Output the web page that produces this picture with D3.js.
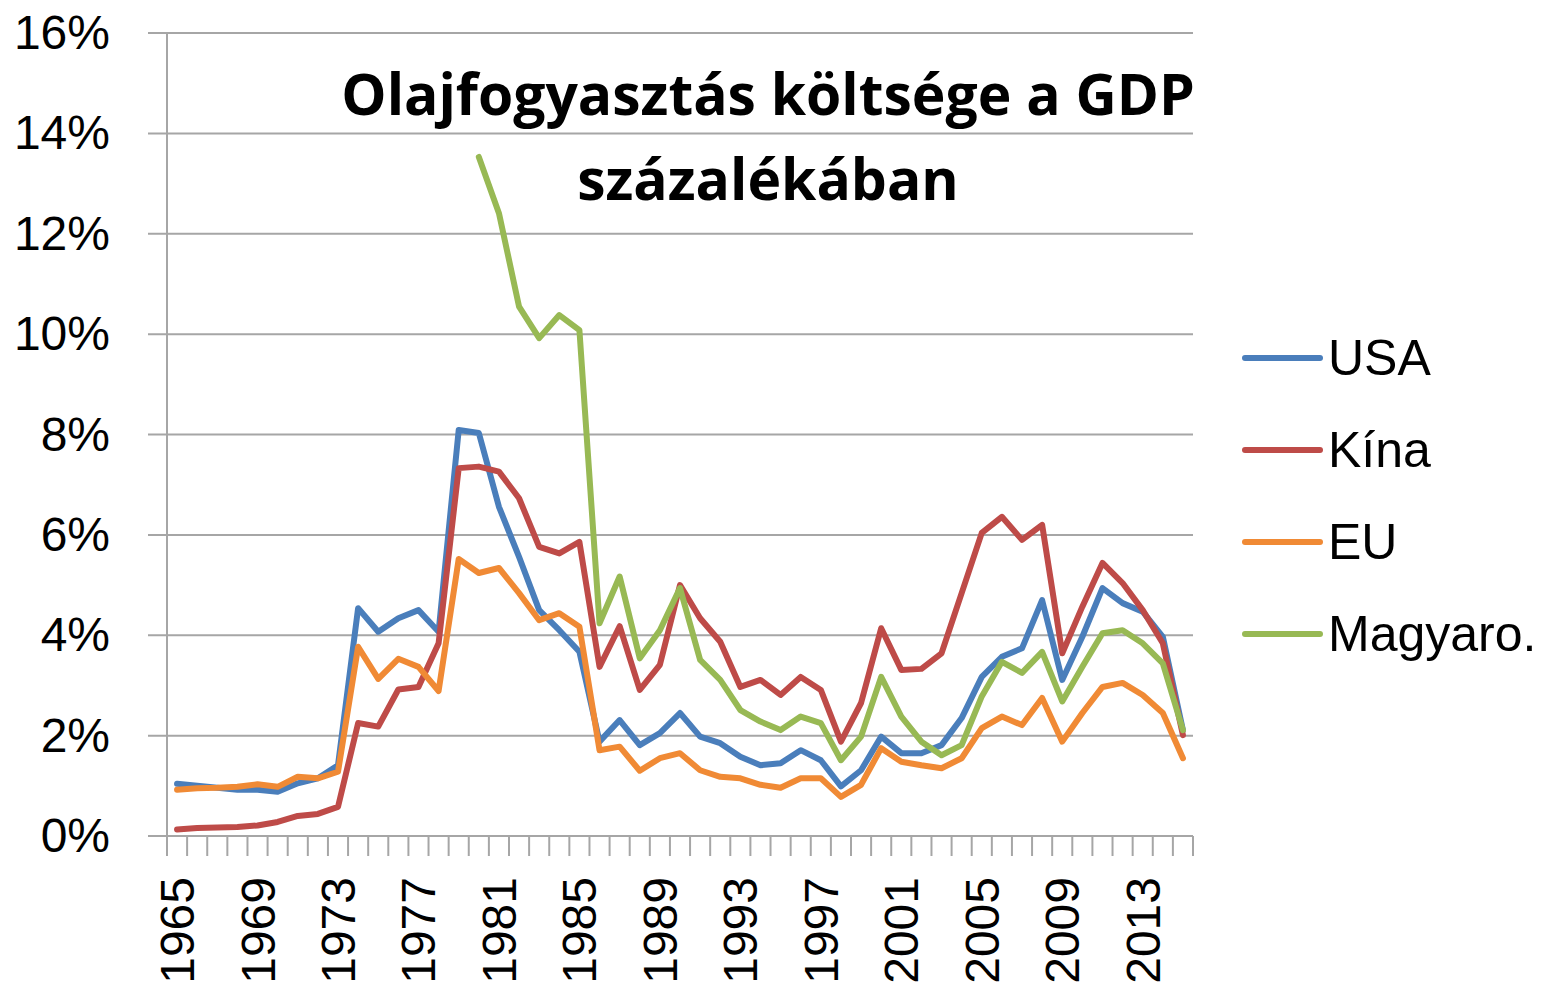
<!DOCTYPE html>
<html>
<head>
<meta charset="utf-8">
<script src="https://cdn.jsdelivr.net/npm/d3@7"></script>
<style>
  body { margin: 0; background: #fff; }
  svg { display: block; }
</style>
</head>
<body>
<div id="chart"></div>
<script>
// évek (kategóriák)
const years = d3.range(1965, 2016);

// sorozatok, a GDP százalékában
const usa = [
  1.04, 1.00, 0.96, 0.92, 0.92, 0.88, 1.05, 1.15, 1.41, 4.54, 4.07,
  4.34, 4.50, 4.07, 8.09, 8.03, 6.56, 5.56, 4.50, 4.10, 3.67,
  1.88, 2.31, 1.81, 2.05, 2.45, 1.98, 1.85, 1.58, 1.41, 1.45,
  1.71, 1.51, 0.99, 1.31, 1.98, 1.65, 1.65, 1.81, 2.35, 3.17,
  3.57, 3.74, 4.70, 3.11, 3.97, 4.94, 4.64, 4.47, 3.97, 2.11
];
const kina = [
  0.13, 0.16, 0.17, 0.18, 0.21, 0.28, 0.40, 0.44, 0.58, 2.25, 2.18,
  2.92, 2.97, 3.84, 7.33, 7.36, 7.26, 6.73, 5.76, 5.63, 5.86,
  3.37, 4.18, 2.91, 3.41, 5.00, 4.34, 3.87, 2.97, 3.11, 2.81,
  3.17, 2.91, 1.88, 2.65, 4.14, 3.31, 3.33, 3.64, 4.84, 6.04,
  6.36, 5.90, 6.20, 3.64, 4.57, 5.44, 5.04, 4.50, 3.84, 2.01
];
const eu = [
  0.92, 0.95, 0.96, 0.98, 1.03, 0.98, 1.18, 1.15, 1.28, 3.77, 3.13,
  3.53, 3.37, 2.89, 5.52, 5.24, 5.34, 4.84, 4.30, 4.44, 4.17,
  1.71, 1.78, 1.30, 1.55, 1.65, 1.31, 1.18, 1.15, 1.02, 0.96,
  1.15, 1.15, 0.78, 1.02, 1.75, 1.48, 1.41, 1.35, 1.55, 2.15,
  2.38, 2.21, 2.75, 1.88, 2.45, 2.97, 3.05, 2.81, 2.45, 1.55
];
const magyaro = [
  null, null, null, null, null, null, null, null, null, null, null,
  null, null, null, null, 13.53, 12.41, 10.55, 9.92, 10.38, 10.08,
  4.24, 5.17, 3.54, 4.10, 4.94, 3.51, 3.11, 2.51, 2.28, 2.11,
  2.38, 2.25, 1.51, 1.98, 3.17, 2.38, 1.88, 1.61, 1.81, 2.78,
  3.47, 3.25, 3.67, 2.68, 3.37, 4.04, 4.10, 3.84, 3.44, 2.11
];

const seriesNames = ["USA", "Kína", "EU", "Magyaro."];
const seriesColors = ["#4a7ebb", "#be4b48", "#f08a35", "#98b954"];
const yTicks = [0, 2, 4, 6, 8, 10, 12, 14, 16];
const xLabelYears = [1965, 1969, 1973, 1977, 1981, 1985, 1989, 1993, 1997, 2001, 2005, 2009, 2013];
const titleLines = ["Olajfogyasztás költsége a GDP", "százalékában"];

const series = [usa, kina, eu, magyaro].map((vals, i) => ({
  name: seriesNames[i],
  color: seriesColors[i],
  values: vals.map((v, j) => ({ year: years[j], value: v }))
}));

const width = 1555, height = 989;
const font = "'Liberation Sans', Arial, sans-serif";
const gridColor = "#a6a6a6";

const svg = d3.select("#chart").append("svg")
  .attr("width", width)
  .attr("height", height);

const x = d3.scaleBand()
  .domain(years)
  .range([167, 1193])
  .padding(0);

const y = d3.scaleLinear()
  .domain([0, 16])
  .range([836, 33]);

const cx = d => x(d) + x.bandwidth() / 2;

// vízszintes rácsvonalak
svg.append("g")
  .selectAll("line")
  .data(yTicks)
  .join("line")
  .attr("x1", 148)
  .attr("x2", x.range()[1])
  .attr("y1", d => y(d))
  .attr("y2", d => y(d))
  .attr("stroke", gridColor)
  .attr("stroke-width", 2);

// függőleges tengely
svg.append("line")
  .attr("x1", x.range()[0])
  .attr("x2", x.range()[0])
  .attr("y1", y(16))
  .attr("y2", y(0))
  .attr("stroke", gridColor)
  .attr("stroke-width", 2);

// y feliratok
svg.append("g")
  .attr("font-family", font)
  .attr("font-size", 48)
  .attr("text-anchor", "end")
  .selectAll("text")
  .data(yTicks)
  .join("text")
  .attr("x", 110)
  .attr("y", d => y(d) + 16)
  .text(d => d + "%");

// x tengely: osztásjelek a kategóriák határán
const boundaries = years.map(d => x(d)).concat([x.range()[1]]);
svg.append("g")
  .selectAll("line")
  .data(boundaries)
  .join("line")
  .attr("x1", d => d)
  .attr("x2", d => d)
  .attr("y1", y(0))
  .attr("y2", y(0) + 20)
  .attr("stroke", gridColor)
  .attr("stroke-width", 2);

// x feliratok, elforgatva
svg.append("g")
  .attr("font-family", font)
  .attr("font-size", 48)
  .attr("text-anchor", "end")
  .selectAll("text")
  .data(xLabelYears)
  .join("text")
  .attr("transform", d => `translate(${cx(d) + 17},877) rotate(-90)`)
  .text(d => d);

// vonalak
const line = d3.line()
  .defined(d => d.value != null)
  .x(d => cx(d.year))
  .y(d => y(d.value));

svg.append("g")
  .attr("fill", "none")
  .attr("stroke-width", 6)
  .attr("stroke-linejoin", "round")
  .attr("stroke-linecap", "round")
  .selectAll("path")
  .data(series)
  .join("path")
  .attr("stroke", d => d.color)
  .attr("d", d => line(d.values));

// cím
svg.append("g")
  .attr("font-family", "'Open Sans', " + font)
  .attr("font-weight", "bold")
  .attr("font-size", 57)
  .attr("text-anchor", "middle")
  .selectAll("text")
  .data(titleLines)
  .join("text")
  .attr("x", 768)
  .attr("y", (d, i) => 115 + i * 85)
  .text(d => d);

// jelmagyarázat
const legend = svg.append("g")
  .selectAll("g")
  .data(series)
  .join("g")
  .attr("transform", (d, i) => `translate(1245,${358 + i * 92})`);

legend.append("line")
  .attr("x1", 0)
  .attr("x2", 75)
  .attr("stroke", d => d.color)
  .attr("stroke-width", 6)
  .attr("stroke-linecap", "round");

legend.append("text")
  .attr("x", 83)
  .attr("y", 17)
  .attr("font-family", font)
  .attr("font-size", 50)
  .text(d => d.name);
</script>
</body>
</html>
